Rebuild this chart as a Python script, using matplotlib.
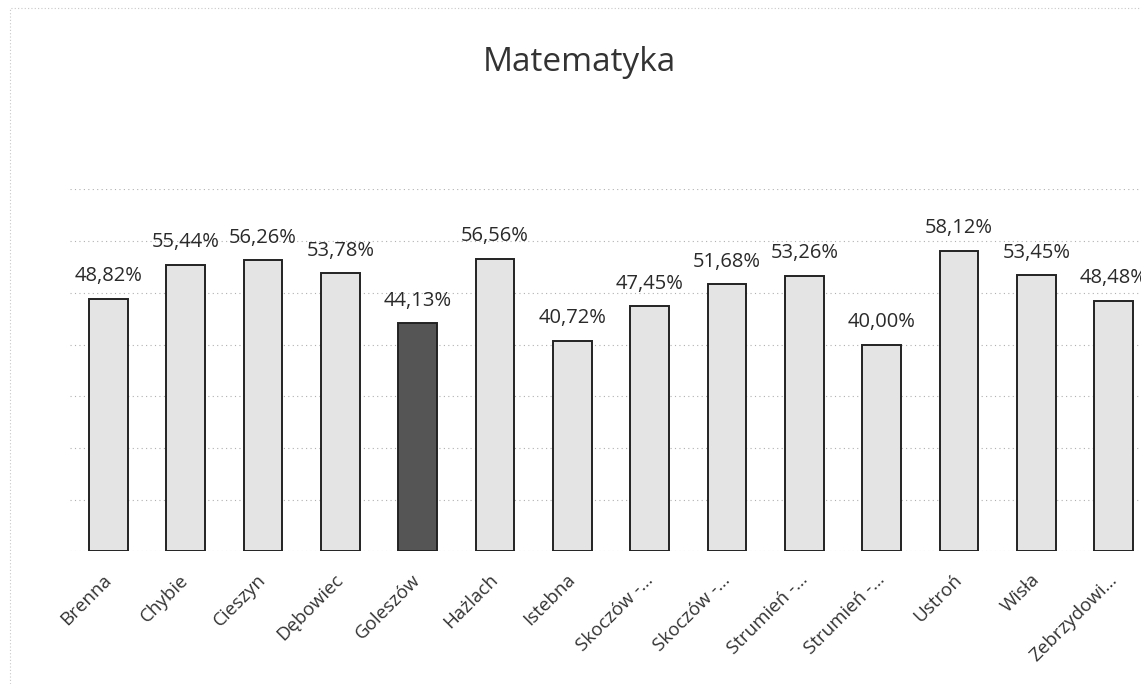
import matplotlib.pyplot as plt
from matplotlib.patches import Rectangle
from matplotlib.transforms import ScaledTranslation

plt.rcParams['font.family'] = ['Open Sans', 'DejaVu Sans']

# dane
gminy = ['Brenna', 'Chybie', 'Cieszyn', 'Dębowiec', 'Goleszów', 'Hażlach', 'Istebna',
         'Skoczów -…', 'Skoczów -…', 'Strumień -…', 'Strumień -…', 'Ustroń', 'Wisła',
         'Zebrzydowi…']
wyniki = [48.82, 55.44, 56.26, 53.78, 44.13, 56.56, 40.72,
          47.45, 51.68, 53.26, 40.00, 58.12, 53.45, 48.48]
wyrozniona = 'Goleszów'

fig = plt.figure(figsize=(11.41, 6.84), dpi=100)
fig.patches.append(Rectangle((0.009, -0.02), 1.2, 1.008, transform=fig.transFigure,
                             fill=False, edgecolor='#c8c8c8', linestyle=(0, (1, 2)), lw=0.8))
ax = fig.add_axes([0.061, 0.194, 0.949, 0.529])

kolory = ['#555555' if g == wyrozniona else '#e4e4e4' for g in gminy]
x = range(len(gminy))
bars = ax.bar(x, wyniki, width=0.5, color=kolory, edgecolor='#222222', linewidth=1.4, zorder=3)

for b, w in zip(bars, wyniki):
    ax.annotate(('%.2f%%' % w).replace('.', ','), (b.get_x() + b.get_width() / 2, w),
                xytext=(0, 9), textcoords='offset points', ha='center', va='bottom',
                fontsize=14.5, color='#2a2a2a')

ax.set_ylim(0, 70)
ax.set_xlim(-0.5, len(gminy) - 0.5)
ax.set_yticks(range(0, 71, 10))
ax.set_yticklabels([])
ax.tick_params(axis='y', length=0)
ax.tick_params(axis='x', length=0, pad=14)
ax.set_xticks(list(x))
ax.set_xticklabels(gminy, rotation=45, ha='right', rotation_mode='anchor',
                   fontsize=13.5, color='#333333')
przes = ScaledTranslation(-6 / 100, 0, fig.dpi_scale_trans)
for lab in ax.get_xticklabels():
    lab.set_transform(lab.get_transform() + przes)
ax.grid(axis='y', color='#b0b0b0', linestyle=(0, (1, 3)), linewidth=0.8, zorder=0)
for s in ax.spines.values():
    s.set_visible(False)

fig.text(0.508, 0.908, 'Matematyka', ha='center', va='center', fontsize=24, color='#333333')

fig.savefig('out.png', dpi=100)
